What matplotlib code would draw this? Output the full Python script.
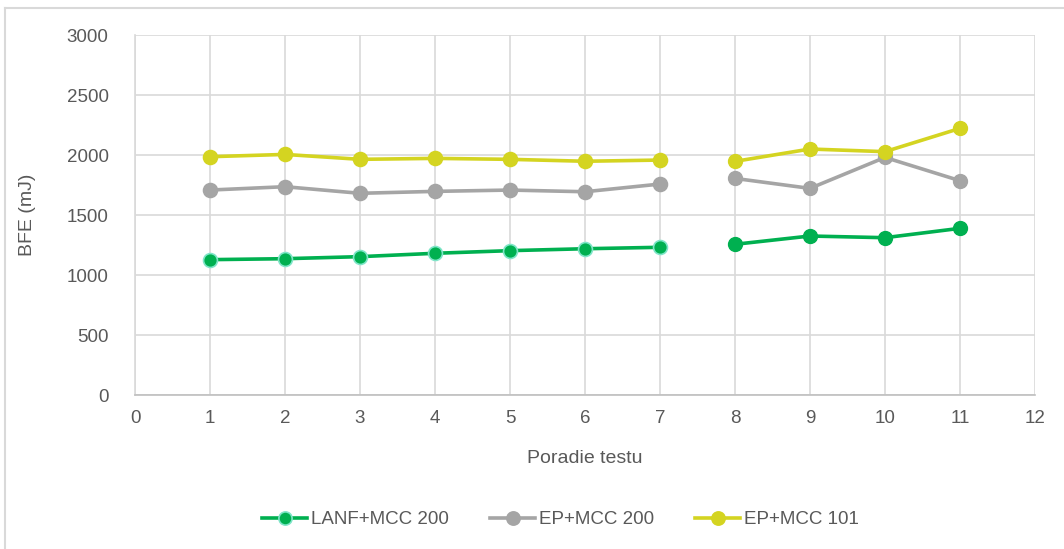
import matplotlib.pyplot as plt
from matplotlib.lines import Line2D

# Data
tests = [1, 2, 3, 4, 5, 6, 7, 8, 9, 10, 11]
lanf_mcc200 = [1128, 1136, 1153, 1181, 1203, 1219, 1231, 1256, 1325, 1311, 1389]
ep_mcc200 = [1708, 1736, 1681, 1697, 1708, 1694, 1758, 1805, 1722, 1980, 1786]
ep_mcc101 = [1986, 2005, 1964, 1972, 1964, 1948, 1958, 1947, 2050, 2028, 2222]
split = 7  # series break between test 7 and test 8

y_ticks = [0, 500, 1000, 1500, 2000, 2500, 3000]
x_ticks = list(range(0, 13))

plt.rcParams['font.family'] = ['Liberation Sans', 'DejaVu Sans']
text_color = '#595959'
grid_color = '#d9d9d9'

fig = plt.figure(figsize=(10.64, 5.49), dpi=100)
ax = fig.add_axes([0.1269, 0.2805, 0.8458, 0.6557])

styles = [
    ('LANF+MCC 200', lanf_mcc200, '#00B050', '#7FE5C8'),
    ('EP+MCC 200', ep_mcc200, '#A5A5A5', '#A5A5A5'),
    ('EP+MCC 101', ep_mcc101, '#D4D421', '#D4D421'),
]

handles = []
for label, values, color, edge in styles:
    ax.plot(tests[:split], values[:split], color=color, linewidth=2.6,
            marker='o', markersize=10, markerfacecolor=color,
            markeredgecolor=edge, markeredgewidth=1.2, zorder=3)
    ax.plot(tests[split:], values[split:], color=color, linewidth=2.6,
            marker='o', markersize=10, markerfacecolor=color,
            markeredgecolor=color, zorder=3)
    handles.append(Line2D([0], [0], color=color, linewidth=2.6, marker='o',
                          markersize=9.5, markerfacecolor=color,
                          markeredgecolor=edge, markeredgewidth=1.2, label=label))

ax.set_xlim(0, 12)
ax.set_ylim(0, 3000)
ax.set_xticks(x_ticks)
ax.set_yticks(y_ticks)
ax.grid(True, color=grid_color, linewidth=1.2, zorder=0)
ax.set_axisbelow(True)

for side in ['top', 'right']:
    ax.spines[side].set_visible(False)
ax.spines['left'].set_color(grid_color)
ax.spines['left'].set_linewidth(1.2)
ax.spines['bottom'].set_color('#bfbfbf')
ax.spines['bottom'].set_linewidth(1.2)

ax.tick_params(axis='y', length=0, labelsize=13.5, colors=text_color, pad=19)
ax.tick_params(axis='x', length=0, labelsize=13.5, colors=text_color, pad=11)
ax.set_xlabel('Poradie testu', fontsize=14, color=text_color, labelpad=16)
ax.set_ylabel('BFE (mJ)', fontsize=14, color=text_color, labelpad=22)

fig.legend(handles=handles, loc='center', bbox_to_anchor=(0.527, 0.053), ncol=3,
           frameon=False, fontsize=13.5, labelcolor=text_color, handlelength=2.4,
           handletextpad=0.2, columnspacing=2.2)

# outer chart border
fig.add_artist(Line2D([5 / 1064, 5 / 1064], [0, 1 - 8 / 549],
                      transform=fig.transFigure, color='#d9d9d9', linewidth=1.5))
fig.add_artist(Line2D([5 / 1064, 1], [1 - 8 / 549, 1 - 8 / 549],
                      transform=fig.transFigure, color='#d9d9d9', linewidth=1.5))

fig.savefig('out.png', dpi=100)
